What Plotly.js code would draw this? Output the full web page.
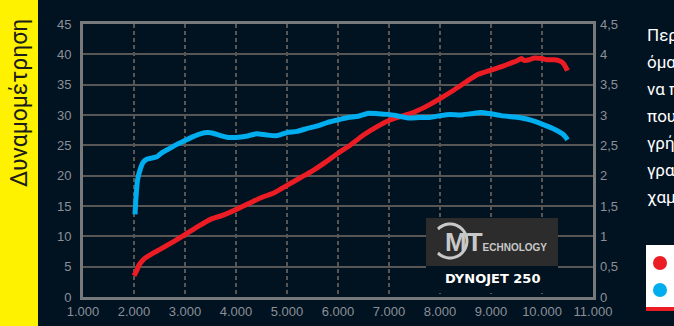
<!DOCTYPE html>
<html>
<head>
<meta charset="utf-8">
<script src="https://cdn.plot.ly/plotly-3.0.1.min.js"></script>
<style>html,body{margin:0;padding:0;background:#011220;}#chart{width:674px;height:326px;}</style>
</head>
<body>
<div id="chart"></div>
<script>
// ---- data ----
const redRpm = [2000,2050,2100,2200,2350,2500,2750,3000,3250,3500,3750,4000,4250,4500,4750,5000,5250,5500,5750,6000,6250,6500,6750,7000,7250,7500,7750,8000,8250,8500,8750,9000,9250,9400,9500,9600,9650,9750,9850,10000,10100,10250,10350,10420,10470,10500];
const redVal = [3.5,4.3,5.3,6.3,7.1,7.8,9.0,10.3,11.6,12.8,13.5,14.4,15.4,16.4,17.2,18.4,19.6,20.8,22.2,23.7,25.1,26.7,28.0,29.1,29.8,30.5,31.5,32.7,34.0,35.4,36.7,37.4,38.1,38.6,38.9,39.3,39.0,39.1,39.4,39.3,39.1,39.1,38.9,38.5,37.8,37.3];
const blueRpm = [2020,2040,2070,2120,2180,2250,2350,2450,2550,2700,2850,3000,3150,3300,3450,3550,3700,3850,4000,4200,4400,4600,4800,5000,5200,5400,5600,5800,6000,6200,6400,6600,6800,7000,7200,7400,7600,7800,8000,8200,8400,8600,8800,9000,9200,9400,9600,9800,10000,10150,10300,10400,10470,10500];
const blueVal = [1.36,1.65,1.93,2.10,2.22,2.27,2.29,2.31,2.38,2.45,2.52,2.58,2.64,2.69,2.71,2.70,2.66,2.63,2.63,2.65,2.69,2.67,2.66,2.71,2.73,2.78,2.82,2.88,2.92,2.96,2.98,3.03,3.02,3.01,2.98,2.95,2.96,2.96,2.99,3.01,3.00,3.02,3.04,3.02,2.99,2.97,2.95,2.91,2.85,2.80,2.74,2.69,2.63,2.59];
const xTickVals = [1000,2000,3000,4000,5000,6000,7000,8000,9000,10000,11000];
const xTickText = ['1.000','2.000','3.000','4.000','5.000','6.000','7.000','8.000','9.000','10.000','11.000'];
const yTickVals = [0,5,10,15,20,25,30,35,40,45];
const y2TickVals = [0,0.5,1,1.5,2,2.5,3,3.5,4,4.5];
const y2TickText = ['0','0,5','1','1,5','2','2,5','3','3,5','4','4,5'];
const sideTitle = 'Δυναμομέτρηση';
const sideLines = ['Περ','όμα','να π','που','γρή','γρα','χαμ'];

// ---- layout helpers (pixel -> paper) ----
const L = 83, R = 593, T = 24, B = 297;
const X = px => (px - L) / (R - L);
const Y = py => (B - py) / (B - T);

const tickFont = {family: 'Liberation Sans, Arial, sans-serif', size: 13, color: '#8b9098'};
const gridCol = '#585654';

const traces = [
  {x: redRpm, y: redVal, type: 'scatter', mode: 'lines', line: {color: '#ec1c24', width: 5, shape: 'spline', smoothing: 0.6}, xaxis: 'x', yaxis: 'y', hoverinfo: 'skip'},
  {x: blueRpm, y: blueVal, type: 'scatter', mode: 'lines', line: {color: '#00adef', width: 5, shape: 'spline', smoothing: 0.6}, xaxis: 'x', yaxis: 'y2', hoverinfo: 'skip'}
];

// decorative arc for logo
let arc = '';
for (let a = 45; a <= 315; a += 10) {
  const r = a * Math.PI / 180;
  const px = 450 - 17 * Math.cos(r), py = 241 - 17 * Math.sin(r);
  arc += (a === 45 ? 'M ' : ' L ') + X(px).toFixed(4) + ',' + Y(py).toFixed(4);
}

const shapes = [
  {type: 'rect', xref: 'paper', yref: 'paper', x0: X(-5), x1: X(38), y0: Y(330), y1: Y(-5), fillcolor: '#fff200', line: {width: 0}, layer: 'above'},
  {type: 'rect', xref: 'paper', yref: 'paper', x0: X(426), x1: X(558), y0: Y(293), y1: Y(266), fillcolor: '#011220', line: {width: 0}, layer: 'above'},
  {type: 'rect', xref: 'paper', yref: 'paper', x0: X(426), x1: X(558), y0: Y(266), y1: Y(218), fillcolor: '#2c2c2c', line: {width: 0}, layer: 'above'},
  {type: 'path', xref: 'paper', yref: 'paper', path: arc, line: {color: '#c9c9c9', width: 3}, layer: 'above'},
  {type: 'rect', xref: 'paper', yref: 'paper', x0: X(646), x1: X(690), y0: Y(308), y1: Y(245), fillcolor: '#ffffff', line: {width: 0}, layer: 'above'},
  {type: 'rect', xref: 'paper', yref: 'paper', x0: X(646), x1: X(690), y0: Y(311), y1: Y(307), fillcolor: '#ec1c24', line: {width: 0}, layer: 'above'},
  {type: 'circle', xref: 'paper', yref: 'paper', x0: X(653), x1: X(667), y0: Y(270), y1: Y(256), fillcolor: '#ec1c24', line: {width: 0}, layer: 'above'},
  {type: 'circle', xref: 'paper', yref: 'paper', x0: X(653), x1: X(667), y0: Y(297), y1: Y(283), fillcolor: '#00adef', line: {width: 0}, layer: 'above'}
];

const annotations = [
  {xref: 'paper', yref: 'paper', x: X(20), y: Y(103), text: sideTitle, textangle: -90, showarrow: false, xanchor: 'center', yanchor: 'middle', font: {family: 'Roboto, Liberation Sans, sans-serif', size: 23, color: '#1d1d1b'}},
  {xref: 'paper', yref: 'paper', x: X(443), y: Y(242), text: '<b><span style="font-size:26px">MT</span>ECHNOLOGY</b>', showarrow: false, xanchor: 'left', yanchor: 'middle', font: {family: 'Liberation Sans Narrow, Liberation Sans, Arial, sans-serif', size: 10, color: '#c9c9c9'}},
  {xref: 'paper', yref: 'paper', x: X(492), y: Y(278), text: '<b>DYNOJET 250</b>', showarrow: false, xanchor: 'center', yanchor: 'middle', font: {family: 'DejaVu Sans, sans-serif', size: 13, color: '#ffffff'}}
];
sideLines.forEach((t, i) => {
  annotations.push({xref: 'paper', yref: 'paper', x: X(645), y: Y(35 + i * 27), text: t, showarrow: false, xanchor: 'left', yanchor: 'middle', font: {family: 'Roboto, Liberation Sans, sans-serif', size: 17, color: '#ffffff'}});
});

const layout = {
  width: 674, height: 326,
  margin: {l: L, r: 674 - R, t: T, b: 326 - B, pad: 0},
  paper_bgcolor: '#011220', plot_bgcolor: '#011220',
  showlegend: false,
  xaxis: {range: [1000, 11000], tickvals: xTickVals, ticktext: xTickText, tickfont: tickFont, showgrid: true, gridcolor: gridCol, gridwidth: 1.5, griddash: '4px,3px', zeroline: false, showline: true, linecolor: '#77797b', linewidth: 3, mirror: true, ticks: '', fixedrange: true},
  yaxis: {range: [0, 45], tickvals: yTickVals, tickfont: tickFont, showgrid: true, gridcolor: gridCol, gridwidth: 2, zeroline: false, showline: true, linecolor: '#77797b', linewidth: 3, mirror: true, ticks: '', ticklabelstandoff: 6, fixedrange: true},
  yaxis2: {range: [0, 4.5], overlaying: 'y', side: 'right', tickvals: y2TickVals, ticktext: y2TickText, tickfont: tickFont, showgrid: false, zeroline: false, showline: false, ticks: '', ticklabelstandoff: 6, fixedrange: true},
  shapes: shapes,
  annotations: annotations
};

Plotly.newPlot('chart', traces, layout, {staticPlot: true, displayModeBar: false});
</script>
</body>
</html>
